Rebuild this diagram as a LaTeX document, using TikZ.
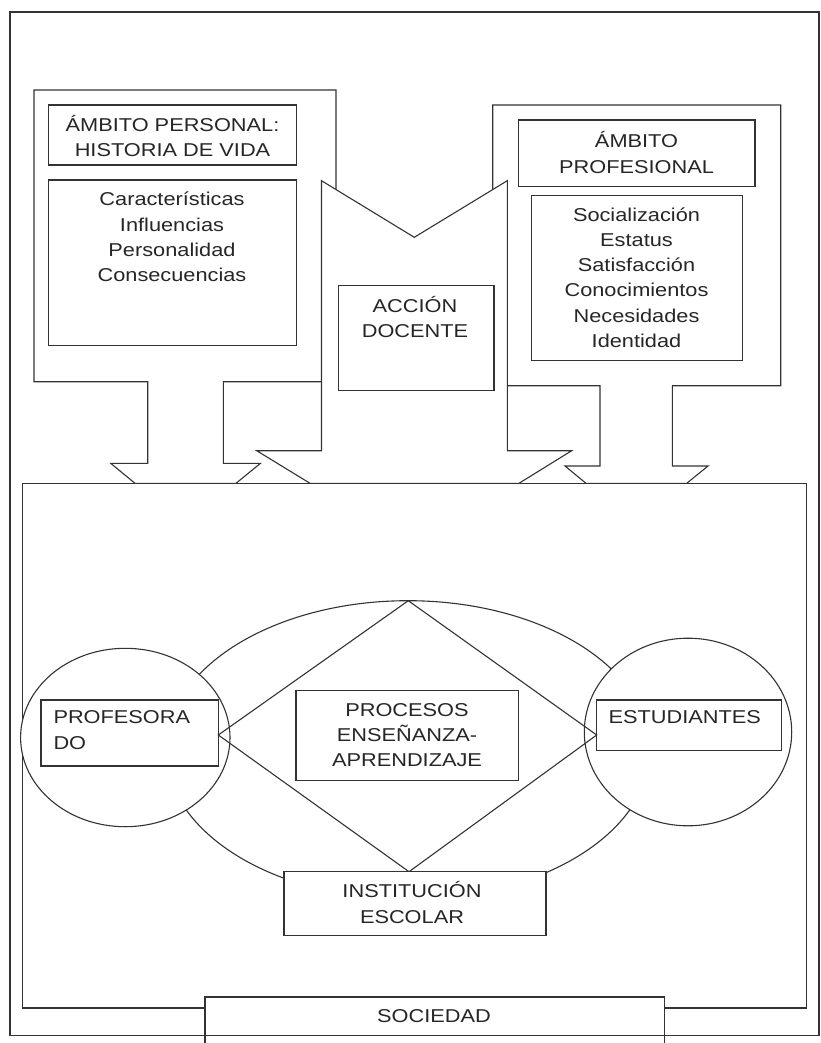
\documentclass[tikz,border=0pt]{standalone}
\usepackage{fontspec}
\newfontfamily\arialx[FakeStretch=1.17]{Liberation Sans}
\newcommand\dtxt{\arialx\fontsize{18.6}{25.3}\selectfont}
\usetikzlibrary{fit}
\tikzset{
  ln/.style={line width=1.1pt, draw=black!80, line join=miter},
  shapebg/.style={ln, fill=white},
  box/.style={ln, fill=white, rectangle, inner sep=0pt},
  txt/.style={font=\dtxt, align=center, inner sep=0pt, text=black!85},
}
\begin{document}
\begin{tikzpicture}[x=1pt, y=-1pt]
\useasboundingbox (0,0) rectangle (820,1043);
% lower big rectangle
\node[box, fit={(22.7,483.3) (806.7,1008)}] (inner) {};
% society box
\node[box, fit={(205,997) (664.5,1060)}] (soc) {};
% outer frame
\draw[ln] (10,12) rectangle (819,1035.7);
% left arrow (personal)
\draw[shapebg] (34,90) -- (336,90) -- (336,381.7) -- (223.3,381.7) -- (223.3,463.3)
  -- (260.5,463.3) -- (236,483.3) -- (135,483.3) -- (110.7,463.3) -- (147.7,463.3)
  -- (147.7,381.7) -- (34,381.7) -- cycle;
% right arrow (profesional)
\draw[shapebg] (492.7,105) -- (780.7,105) -- (780.7,385.7) -- (672.3,385.7) -- (672.3,466)
  -- (708,466) -- (686.7,483.3) -- (586,483.3) -- (565,466) -- (600,466)
  -- (600,385.7) -- (492.7,385.7) -- cycle;
% middle arrow (accion docente)
\draw[shapebg] (321.5,180.7) -- (414.3,237.3) -- (507.3,180.7) -- (507.3,450.7)
  -- (571.7,450.7) -- (519,483.3) -- (310,483.3) -- (256.7,450.7) -- (321.5,450.7) -- cycle;
% inner boxes of top part
\node[box, fit={(48.3,105) (296.7,165)}] (ltitle) {};
\node[box, fit={(48.3,180) (296.7,345.7)}] (lcont) {};
\node[box, fit={(518.3,120) (755,186.7)}] (rtitle) {};
\node[box, fit={(531.7,195.3) (742.3,360.7)}] (rcont) {};
\node[box, fit={(338.3,285.7) (494,390.7)}] (accion) {};
% middle diagram
\draw[ln] (408,750) ellipse [x radius=242pt, y radius=149.3pt];
\coordinate (dtop) at (408.3,600.7);
\draw[shapebg] (125.3,737.5) ellipse [x radius=104.7pt, y radius=89.2pt];
\draw[shapebg] (688,732) ellipse [x radius=103.7pt, y radius=93.8pt];
\node[box, fit={(41,700) (218.3,766)}] (prof) {};
\node[box, fit={(296,690.7) (518.3,780.7)}] (proc) {};
\node[box, fit={(596.7,700) (781.7,750.7)}] (est) {};
\coordinate (dleft) at (218.3,735);
\coordinate (dright) at (596.7,735);
\coordinate (dbot) at (409,871.7);
\draw[ln] (dleft) -- (dtop) -- (dright) -- (dbot) -- cycle;
\node[box, fit={(284,871.7) (546,935.7)}] (inst) {};
% texts
\node[txt] (t1) at (172.5,136) {ÁMBITO PERSONAL:\\HISTORIA DE VIDA};
\node[txt] (t2) at (172,237) {Características\\Influencias\\Personalidad\\Consecuencias};
\node[txt] (t3) at (636.5,152.5) {ÁMBITO\\PROFESIONAL};
\node[txt] (t4) at (636.5,277.5) {Socialización\\Estatus\\Satisfacción\\Conocimientos\\Necesidades\\Identidad};
\node[txt] (t5) at (415,316.7) {ACCIÓN\\DOCENTE};
\node[txt, anchor=west, align=left] (t6) at (53.3,730) {PROFESORA\\DO};
\node[txt] (t7) at (407,735) {PROCESOS\\ENSEÑANZA-\\APRENDIZAJE};
\node[txt, anchor=west] (t8) at (608.3,716.7) {ESTUDIANTES};
\node[txt] (t9) at (412,902.5) {INSTITUCIÓN\\ESCOLAR};
\node[txt] (t10) at (434,1016) {SOCIEDAD};
\end{tikzpicture}
\end{document}
